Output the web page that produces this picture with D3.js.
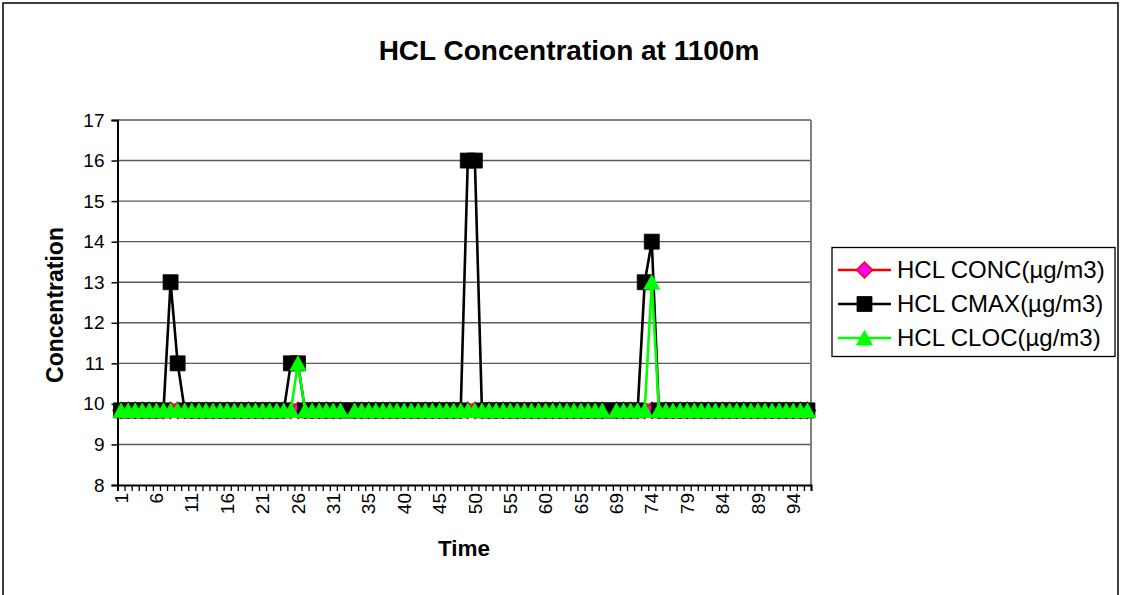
<!DOCTYPE html>
<html>
<head>
<meta charset="utf-8">
<script src="https://cdn.jsdelivr.net/npm/d3@7"></script>
<style>
  html, body { margin: 0; padding: 0; background: #fff; }
  svg { display: block; font-family: "Liberation Sans", Arial, sans-serif; }
</style>
</head>
<body>
<svg id="chart" width="1121" height="595"></svg>
<script>
// ---- data ----
const timeLabels = [
  "1","2","3","4","5","6","7","8","9","10",
  "11","12","13","14","15","16","17","18","19","20",
  "21","22","23","24","25","26","27","28","29","30",
  "31","32","","33","34","35","36","37","38","39",
  "40","41","42","43","44","45","46","47","48","49",
  "50","51","52","53","54","55","56","57","58","59",
  "60","61","62","63","64","65","66","67","68","",
  "69","70","71","72","73","74","75","76","77","78",
  "79","80","81","82","83","84","85","86","87","88",
  "89","90","91","92","93","94","95","96"
];
const hclConc = [
  9.84,9.84,9.84,9.84,9.84,9.84,9.84,9.84,9.84,9.84,
  9.84,9.84,9.84,9.84,9.84,9.84,9.84,9.84,9.84,9.84,
  9.84,9.84,9.84,9.84,9.84,9.84,9.84,9.84,9.84,9.84,
  9.84,9.84,null,9.84,9.84,9.84,9.84,9.84,9.84,9.84,
  9.84,9.84,9.84,9.84,9.84,9.84,9.84,9.84,9.84,9.84,
  9.84,9.84,9.84,9.84,9.84,9.84,9.84,9.84,9.84,9.84,
  9.84,9.84,9.84,9.84,9.84,9.84,9.84,9.84,9.84,null,
  9.84,9.84,9.84,9.84,9.84,9.84,9.84,9.84,9.84,9.84,
  9.84,9.84,9.84,9.84,9.84,9.84,9.84,9.84,9.84,9.84,
  9.84,9.84,9.84,9.84,9.84,9.84,9.84,9.84
];
const hclCmax = [
  9.84,9.84,9.84,9.84,9.84,9.84,9.84,13,11,9.84,
  9.84,9.84,9.84,9.84,9.84,9.84,9.84,9.84,9.84,9.84,
  9.84,9.84,9.84,9.84,11,11,9.84,9.84,9.84,9.84,
  9.84,9.84,9.84,9.84,9.84,9.84,9.84,9.84,9.84,9.84,
  9.84,9.84,9.84,9.84,9.84,9.84,9.84,9.84,9.84,16,
  16,9.84,9.84,9.84,9.84,9.84,9.84,9.84,9.84,9.84,
  9.84,9.84,9.84,9.84,9.84,9.84,9.84,9.84,9.84,9.84,
  9.84,9.84,9.84,9.84,13,14,9.84,9.84,9.84,9.84,
  9.84,9.84,9.84,9.84,9.84,9.84,9.84,9.84,9.84,9.84,
  9.84,9.84,9.84,9.84,9.84,9.84,9.84,9.84
];
const hclCloc = [
  9.84,9.84,9.84,9.84,9.84,9.84,9.84,9.84,9.84,9.84,
  9.84,9.84,9.84,9.84,9.84,9.84,9.84,9.84,9.84,9.84,
  9.84,9.84,9.84,9.84,9.84,11,9.84,9.84,9.84,9.84,
  9.84,9.84,null,9.84,9.84,9.84,9.84,9.84,9.84,9.84,
  9.84,9.84,9.84,9.84,9.84,9.84,9.84,9.84,9.84,9.84,
  9.84,9.84,9.84,9.84,9.84,9.84,9.84,9.84,9.84,9.84,
  9.84,9.84,9.84,9.84,9.84,9.84,9.84,9.84,9.84,null,
  9.84,9.84,9.84,9.84,9.84,13,9.84,9.84,9.84,9.84,
  9.84,9.84,9.84,9.84,9.84,9.84,9.84,9.84,9.84,9.84,
  9.84,9.84,9.84,9.84,9.84,9.84,9.84,9.84
];
const yTicks = [8,9,10,11,12,13,14,15,16,17];
const seriesNames = ["HCL CONC(\u00b5g/m3)", "HCL CMAX(\u00b5g/m3)", "HCL CLOC(\u00b5g/m3)"];
const chartTitle = "HCL Concentration at 1100m";
const xTitle = "Time";
const yTitle = "Concentration";

// ---- layout ----
const svg = d3.select("#chart");
const L = 117.5, R = 811, T = 120, B = 485;
const idx = d3.range(timeLabels.length);

const x = d3.scaleBand().domain(idx).range([L, R]).paddingInner(0).paddingOuter(0);
const cx = i => x(i) + x.bandwidth() / 2;
const xEdges = d3.scaleLinear().domain([0, timeLabels.length]).range([L, R]);
const y = d3.scaleLinear().domain([8, 17]).range([B, T]);

// outer border
svg.append("rect").attr("x", 3).attr("y", 3).attr("width", 1115).attr("height", 610)
  .attr("fill", "#fff").attr("stroke", "#000").attr("stroke-width", 1.5);

// title
svg.append("text").attr("x", 569).attr("y", 60).attr("text-anchor", "middle")
  .attr("font-size", 28).attr("font-weight", "bold").text(chartTitle);

// gridlines
svg.append("g").selectAll("line").data(yTicks.filter(v => v > 8)).join("line")
  .attr("x1", L).attr("x2", R).attr("y1", d => y(d)).attr("y2", d => y(d))
  .attr("stroke", "#5a5a5a").attr("stroke-width", 1.4);
// plot right border
svg.append("line").attr("x1", R).attr("x2", R).attr("y1", T).attr("y2", B)
  .attr("stroke", "#808080").attr("stroke-width", 2);

// y axis
const yAxis = svg.append("g").attr("transform", `translate(${L},0)`)
  .call(d3.axisLeft(y).tickValues(yTicks).tickSize(6).tickPadding(7).tickFormat(d3.format("d")));
yAxis.select(".domain").attr("stroke", "#000").attr("stroke-width", 2);
yAxis.selectAll(".tick line").attr("stroke", "#000").attr("stroke-width", 1.5);
yAxis.selectAll(".tick text").attr("font-size", 19).attr("fill", "#000")
  .attr("font-family", "Liberation Sans, Arial, sans-serif");

// x axis tick marks at category edges
const xTickAxis = svg.append("g").attr("transform", `translate(0,${B})`)
  .call(d3.axisBottom(xEdges).tickValues(d3.range(timeLabels.length + 1)).tickSize(6).tickFormat(""));
xTickAxis.select(".domain").attr("stroke", "#000").attr("stroke-width", 2);
xTickAxis.selectAll(".tick line").attr("stroke", "#000").attr("stroke-width", 1.3);

// x labels every 5th category
const xLab = svg.append("g").attr("transform", `translate(0,${B})`)
  .call(d3.axisBottom(x).tickValues(idx.filter(i => i % 5 === 0)).tickSize(0).tickFormat(i => timeLabels[i]));
xLab.select(".domain").remove();
xLab.selectAll(".tick text")
  .attr("font-size", 19).attr("fill", "#000")
  .attr("font-family", "Liberation Sans, Arial, sans-serif")
  .attr("text-anchor", "end")
  .attr("transform", "rotate(-90)")
  .attr("x", -8).attr("y", 0).attr("dy", "0.35em");

// axis titles
svg.append("text").attr("x", 464).attr("y", 556).attr("text-anchor", "middle")
  .attr("font-size", 22.5).attr("font-weight", "bold").text(xTitle);
svg.append("text").attr("transform", "translate(63,305) rotate(-90)").attr("text-anchor", "middle")
  .attr("font-size", 23).attr("font-weight", "bold").text(yTitle);

// series
const colors = ["#ff0000", "#000000", "#00ff00"];
const fills = ["#ff00ff", "#000000", "#00ff00"];
const diamond = "M0,-8L8,0L0,8L-8,0Z";
const square = "M-7.5,-7.5H7.5V7.5H-7.5Z";
const triangle = "M0,-7.5L8,7L-8,7Z";
const shapes = [diamond, square, triangle];
const seriesData = [hclConc, hclCmax, hclCloc];

const line = d3.line().defined(d => d.v !== null).x(d => cx(d.i)).y(d => y(d.v));
seriesData.forEach((vals, s) => {
  const pts = vals.map((v, i) => ({ i, v }));
  svg.append("path").datum(pts).attr("d", line).attr("fill", "none")
    .attr("stroke", colors[s]).attr("stroke-width", 2.6).attr("stroke-linejoin", "round");
  svg.append("g").selectAll("path").data(pts.filter(d => d.v !== null)).join("path")
    .attr("d", shapes[s])
    .attr("transform", d => `translate(${cx(d.i)},${y(d.v)})`)
    .attr("fill", fills[s])
    .attr("stroke", colors[s]).attr("stroke-width", s === 0 ? 1.5 : 0.8);
});

// legend
const lg = svg.append("g");
lg.append("rect").attr("x", 832).attr("y", 247.5).attr("width", 283).attr("height", 109)
  .attr("fill", "#fff").attr("stroke", "#000").attr("stroke-width", 1.3);
const legY = [270, 304, 338];
seriesNames.forEach((name, s) => {
  lg.append("line").attr("x1", 838).attr("x2", 891).attr("y1", legY[s]).attr("y2", legY[s])
    .attr("stroke", colors[s]).attr("stroke-width", 2.6);
  lg.append("path").attr("d", shapes[s]).attr("transform", `translate(864.5,${legY[s]})`)
    .attr("fill", fills[s]).attr("stroke", colors[s]).attr("stroke-width", s === 0 ? 1.5 : 0.8);
  lg.append("text").attr("x", 897).attr("y", legY[s]).attr("dy", "0.35em")
    .attr("font-size", 24).text(name);
});
</script>
</body>
</html>
